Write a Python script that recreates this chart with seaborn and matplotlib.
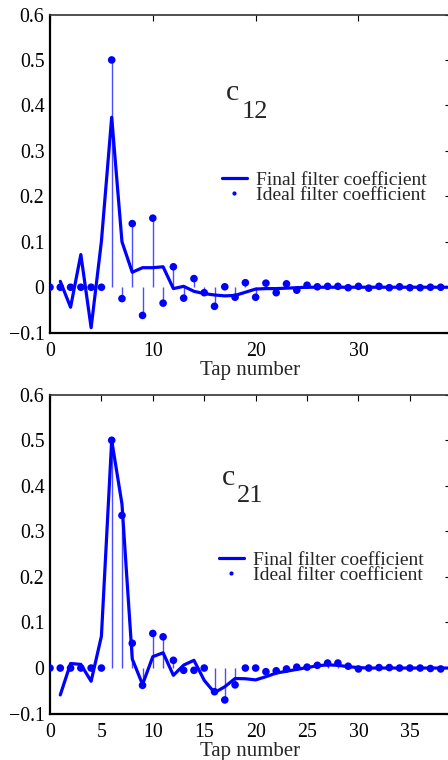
import numpy as np
import pandas as pd
import matplotlib
matplotlib.use("Agg")
import matplotlib.pyplot as plt
from matplotlib.lines import Line2D
from matplotlib.ticker import FuncFormatter
import seaborn as sns

# ---- data -------------------------------------------------------------
ideal_taps = list(range(0, 39))
final_taps = list(range(1, 40))

c12_ideal = [0, 0, 0, 0, 0, 0, 0.5, -0.025, 0.14, -0.062, 0.152, -0.035, 0.045,
             -0.024, 0.019, -0.012, -0.042, 0.001, -0.022, 0.010, -0.022, 0.009,
             -0.012, 0.0075, -0.0065, 0.0045, 0.001, 0.002, 0.002, -0.001, 0.002,
             -0.002, 0.002, -0.001, 0.001, -0.001, -0.001, 0, 0]
c12_final = [0.013, -0.044, 0.072, -0.089, 0.101, 0.374, 0.100, 0.033, 0.043,
             0.043, 0.045, -0.003, 0.002, -0.009, -0.014, -0.017, -0.019, -0.018,
             -0.011, -0.004, -0.003, -0.003, -0.002, -0.001, 0.0,
             0, 0, 0, 0, 0, 0, 0, 0, 0, 0, 0, 0, 0, 0]

c21_ideal = [0, 0, 0, 0, 0, 0, 0.5, 0.335, 0.0545, -0.038, 0.076, 0.0685, 0.017,
             -0.005, -0.005, 0, -0.052, -0.07, -0.037, 0, 0, -0.008, -0.006,
             -0.002, 0.002, 0.002, 0.006, 0.011, 0.011, 0.004, -0.002, 0, 0.001,
             0.001, 0, 0, 0, -0.001, -0.002]
c21_final = [-0.059, 0.010, 0.008, -0.029, 0.070, 0.500, 0.360, 0.020, -0.036,
             0.025, 0.0335, -0.016, 0.0065, 0.017, -0.027, -0.054, -0.041, -0.023,
             -0.0235, -0.026, -0.019, -0.011, -0.007, -0.003, 0.001, 0.005, 0.007,
             0.006, 0.003, 0.001, 0, 0, 0, 0, 0, 0, 0, 0, 0]

y_ticks = [-0.1, 0, 0.1, 0.2, 0.3, 0.4, 0.5, 0.6]
top_x_ticks = [0, 10, 20, 30]
bottom_x_ticks = [0, 5, 10, 15, 20, 25, 30, 35]
legend_labels = ["Final filter coefficient", "Ideal filter coefficient"]
x_label = "Tap number"

# ---- style ------------------------------------------------------------
sns.set_theme(style="white")
plt.rcParams["font.family"] = ["Liberation Serif", "DejaVu Serif"]
plt.rcParams["axes.unicode_minus"] = True

BLUE = "#0000ff"
W, H = 448, 760
fig = plt.figure(figsize=(W / 100, H / 100), dpi=100)
fig.patch.set_facecolor("white")


def fmt_y(v, _):
    if abs(v) < 1e-9:
        return "0"
    return f"{v:.1f}".replace("-", "\u2212")


def panel(rect, ideal, final, xticks, name, sub, c_pos, sub_pos, leg_anchor):
    ax = fig.add_axes(rect)
    df_i = pd.DataFrame({"tap": ideal_taps, "value": ideal})
    df_f = pd.DataFrame({"tap": final_taps, "value": final})

    # stems from zero to each ideal coefficient
    ax.vlines(df_i["tap"], 0, df_i["value"], color=BLUE, lw=1.0, alpha=0.7, zorder=2)
    sns.lineplot(data=df_f, x="tap", y="value", ax=ax, color=BLUE, lw=2.3,
                 zorder=3, legend=False)
    sns.scatterplot(data=df_i, x="tap", y="value", ax=ax, color=BLUE, s=30,
                    edgecolor="none", linewidth=0, zorder=4, legend=False)

    ax.set_xlim(0, 39)
    ax.set_ylim(-0.1, 0.6)
    ax.set_xticks(xticks)
    ax.set_yticks(y_ticks)
    ax.yaxis.set_major_formatter(FuncFormatter(fmt_y))
    ax.xaxis.set_major_formatter(FuncFormatter(lambda v, _: f"{int(v)}"))
    ax.tick_params(direction="in", length=4, width=0.8, top=True, right=True,
                   labelsize=14.3, pad=4, colors="black")
    ax.tick_params(axis="x", pad=7)
    ax.set_xlabel(x_label, fontsize=15, labelpad=0)
    ax.set_ylabel("")
    for side in ("left", "bottom"):
        ax.spines[side].set_linewidth(1.6)
        ax.spines[side].set_color("black")
    for side in ("top", "right"):
        ax.spines[side].set_linewidth(1.2)
        ax.spines[side].set_color("#333333")

    handles = [Line2D([], [], color=BLUE, lw=2.3),
               Line2D([], [], color=BLUE, ls="none", marker=".", markersize=4)]
    ax.legend(handles, legend_labels, loc="center left", bbox_to_anchor=leg_anchor,
              frameon=False, fontsize=14.0, handlelength=1.3, handletextpad=0.45,
              labelspacing=-0.1, borderpad=0, borderaxespad=0)

    fig.text(c_pos[0] / W, 1 - c_pos[1] / H, name, fontsize=21.5,
             ha="left", va="baseline")
    fig.text(sub_pos[0] / W, 1 - sub_pos[1] / H, sub, fontsize=19,
             ha="left", va="baseline")
    return ax


panel([50 / W, 1 - 332.7 / H, 401 / W, (332.7 - 14.5) / H],
      c12_ideal, c12_final, top_x_ticks, "c", "12",
      (225.5, 99.5), (242.0, 117.5), (0.428, 0.456))
panel([50 / W, 1 - 713.6 / H, 401 / W, (713.6 - 394.7) / H],
      c21_ideal, c21_final, bottom_x_ticks, "c", "21",
      (222.0, 485.0), (236.5, 502.5), (0.421, 0.458))

fig.savefig("out.png", dpi=100)
